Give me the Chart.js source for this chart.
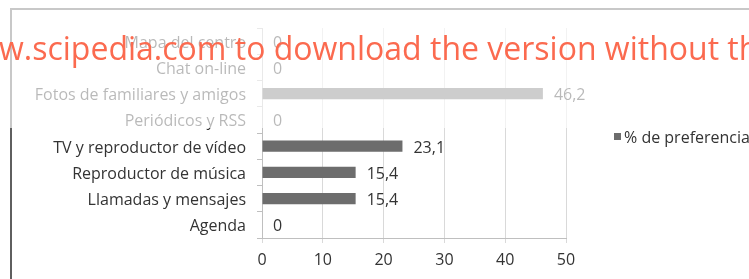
<!DOCTYPE html>
<html>
<head>
<meta charset="utf-8">
<script src="https://cdn.jsdelivr.net/npm/chart.js@4/dist/chart.umd.min.js"></script>
<style>
  body { margin: 0; background: #fff; overflow: hidden; }
  #wrap { position: relative; width: 749px; height: 279px; }
  #fade { position: absolute; left: 0; top: 0; width: 749px; height: 128px; background: rgba(255,255,255,0.66); }
  #mark { position: absolute; left: -1px; top: 24px; font: 32px "Open Sans", sans-serif; line-height: 48px;
          color: #fb6a4f; white-space: nowrap; }
</style>
</head>
<body>
<div id="wrap">
  <canvas id="chart" width="749" height="279"></canvas>
  <div id="fade"></div>
  <div id="mark">w.scipedia.com to download the version without th</div>
</div>
<script>
const categories = ["Mapa del centro", "Chat on-line", "Fotos de familiares y amigos", "Periódicos y RSS",
  "TV y reproductor de vídeo", "Reproductor de música", "Llamadas y mensajes", "Agenda"];
const preferencia = [0, 0, 46.2, 0, 23.1, 15.4, 15.4, 0];
const xTicks = [0, 10, 20, 30, 40, 50];
const seriesName = "% de preferencia";

const font = { family: "Open Sans", size: 16 };

// frame, value labels and legend
const extras = {
  id: "extras",
  beforeDraw(c) {
    const ctx = c.ctx;
    ctx.save();
    ctx.strokeStyle = "#5f5f5f";
    ctx.lineWidth = 2;
    ctx.strokeRect(11, 9, 900, 400);
    ctx.restore();
  },
  afterDatasetsDraw(c) {
    const ctx = c.ctx;
    ctx.save();
    ctx.font = "16px 'Open Sans'";
    ctx.fillStyle = "#333333";
    ctx.textBaseline = "middle";
    c.getDatasetMeta(0).data.forEach((bar, i) => {
      ctx.fillText(String(preferencia[i]).replace(".", ","), bar.x + 11, bar.y + 2);
    });
    ctx.fillStyle = "#6d6d6d";
    ctx.fillRect(614, 133, 7, 7);
    ctx.fillStyle = "#333333";
    ctx.fillText(seriesName, 624, 138);
    ctx.restore();
  }
};

function draw() {
  new Chart(document.querySelector("#chart").getContext("2d"), {
    type: "bar",
    data: {
      labels: categories,
      datasets: [{
        label: seriesName,
        data: preferencia,
        backgroundColor: "#6d6d6d",
        barPercentage: 0.42,
        categoryPercentage: 1
      }]
    },
    options: {
      indexAxis: "y",
      responsive: false,
      animation: false,
      layout: { padding: { left: 0, right: 183, top: 28, bottom: 0 } },
      plugins: { legend: { display: false }, tooltip: { enabled: false } },
      scales: {
        x: {
          min: 0, max: 50,
          afterBuildTicks: s => { s.ticks = xTicks.map(v => ({ value: v })); },
          afterFit: s => { s.height = 41; },
          grid: { color: "#d9d9d9", tickLength: 5, lineWidth: 1 },
          border: { color: "#bfbfbf" },
          ticks: { color: "#333333", font: font, padding: 8 }
        },
        y: {
          afterFit: s => { s.width = 262; },
          grid: { drawOnChartArea: false, color: "#bfbfbf", tickLength: 5 },
          border: { color: "#bfbfbf" },
          ticks: { color: "#333333", font: font, padding: 11, labelOffset: 2 }
        }
      }
    },
    plugins: [extras]
  });
}

document.fonts.load("16px 'Open Sans'").then(draw, draw);
</script>
</body>
</html>
